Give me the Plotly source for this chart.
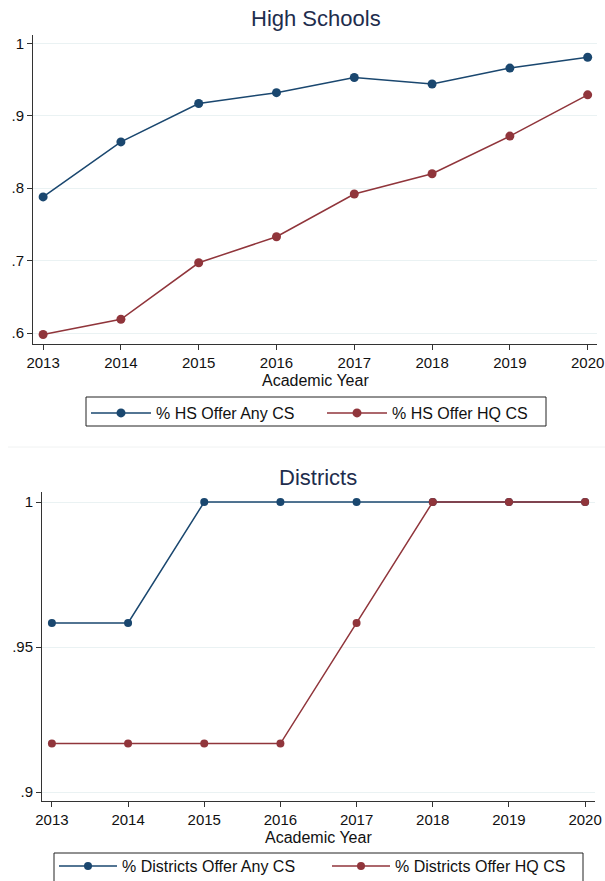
import plotly.graph_objects as go

years = [2013, 2014, 2015, 2016, 2017, 2018, 2019, 2020]
hs_any = [0.788, 0.864, 0.917, 0.932, 0.953, 0.944, 0.966, 0.981]
hs_hq = [0.598, 0.619, 0.697, 0.733, 0.792, 0.820, 0.872, 0.929]
dist_any = [0.9583, 0.9583, 1.0, 1.0, 1.0, 1.0, 1.0, 1.0]
dist_hq = [0.9167, 0.9167, 0.9167, 0.9167, 0.9583, 1.0, 1.0, 1.0]

hs_yticks = [0.6, 0.7, 0.8, 0.9, 1.0]
hs_ylabels = [".6", ".7", ".8", ".9", "1"]
d_yticks = [0.9, 0.95, 1.0]
d_ylabels = [".9", ".95", "1"]

BLUE = "#1a476f"
RED = "#90353b"
GRID = "#eaf2f3"
AX = "#333333"
FONT = "Liberation Sans, Arial, sans-serif"

W, H = 605, 881

fig = go.Figure()
fig.add_trace(go.Scatter(x=years, y=hs_any, mode="lines+markers", name="% HS Offer Any CS",
                         line=dict(color=BLUE, width=1.5), marker=dict(color=BLUE, size=9),
                         xaxis="x", yaxis="y", legend="legend"))
fig.add_trace(go.Scatter(x=years, y=hs_hq, mode="lines+markers", name="% HS Offer HQ CS",
                         line=dict(color=RED, width=1.5), marker=dict(color=RED, size=9),
                         xaxis="x", yaxis="y", legend="legend"))
fig.add_trace(go.Scatter(x=years, y=dist_any, mode="lines+markers", name="% Districts Offer Any CS",
                         line=dict(color=BLUE, width=1.5), marker=dict(color=BLUE, size=8),
                         xaxis="x2", yaxis="y2", legend="legend2"))
fig.add_trace(go.Scatter(x=years, y=dist_hq, mode="lines+markers", name="% Districts Offer HQ CS",
                         line=dict(color=RED, width=1.5), marker=dict(color=RED, size=8),
                         xaxis="x2", yaxis="y2", legend="legend2"))

def px_x(p):
    return p / W

def px_y(p):
    return 1 - p / H

common_x = dict(showline=True, linecolor=AX, linewidth=1, ticks="outside", ticklen=5,
                tickcolor=AX, showgrid=False, zeroline=False, tickvals=years, automargin=False,
                tickfont=dict(size=15, color="#111111", family=FONT))
common_y = dict(showline=True, linecolor=AX, linewidth=1, ticks="outside", ticklen=5,
                tickcolor=AX, showgrid=True, gridcolor=GRID, gridwidth=1, zeroline=False,
                automargin=False, tickfont=dict(size=15, color="#111111", family=FONT))

fig.update_layout(
    width=W, height=H,
    margin=dict(l=0, r=0, t=0, b=0, pad=0, autoexpand=False),
    paper_bgcolor="white", plot_bgcolor="white",
    font=dict(family=FONT, size=15, color="#111111"),
    xaxis=dict(common_x, domain=[px_x(33), px_x(597)], range=[2012.87, 2020.12], anchor="y"),
    yaxis=dict(common_y, domain=[px_y(344), px_y(35)], range=[0.5848, 1.0117],
               tickvals=hs_yticks, ticktext=hs_ylabels, anchor="x"),
    xaxis2=dict(common_x, domain=[px_x(42), px_x(595)], range=[2012.87, 2020.13], anchor="y2"),
    yaxis2=dict(common_y, domain=[px_y(801), px_y(492)], range=[0.8969, 1.00345],
                tickvals=d_yticks, ticktext=d_ylabels, anchor="x2"),
    legend=dict(orientation="h", x=px_x(86), xanchor="left", y=px_y(396), yanchor="top",
                borderwidth=0, font=dict(size=16, family=FONT),
                itemwidth=60, entrywidth=161, bgcolor="rgba(0,0,0,0)"),
    legend2=dict(orientation="h", x=px_x(54), xanchor="left", y=px_y(849), yanchor="top",
                 borderwidth=0, font=dict(size=16, family=FONT),
                 itemwidth=58, entrywidth=200, bgcolor="rgba(0,0,0,0)"),
    showlegend=True,
    shapes=[
        dict(type="rect", xref="paper", yref="paper", x0=px_x(86), x1=px_x(546),
             y0=px_y(426), y1=px_y(397), line=dict(color="#222222", width=1), layer="below"),
        dict(type="rect", xref="paper", yref="paper", x0=px_x(54), x1=px_x(583),
             y0=px_y(900), y1=px_y(853), line=dict(color="#222222", width=1), layer="below"),
        dict(type="line", xref="paper", yref="paper", x0=px_x(8), x1=1,
             y0=px_y(447), y1=px_y(447), line=dict(color="#f0f2f2", width=1), layer="below"),
    ],
    annotations=[
        dict(text="High Schools", x=px_x(316), y=px_y(18), xref="paper", yref="paper",
             showarrow=False, font=dict(size=22, color="#1e2d4d", family=FONT),
             xanchor="center", yanchor="middle"),
        dict(text="Districts", x=px_x(318), y=px_y(477), xref="paper", yref="paper",
             showarrow=False, font=dict(size=22, color="#1e2d4d", family=FONT),
             xanchor="center", yanchor="middle"),
        dict(text="Academic Year", x=px_x(315), y=px_y(380), xref="paper", yref="paper",
             showarrow=False, font=dict(size=16, color="#111111", family=FONT),
             xanchor="center", yanchor="middle"),
        dict(text="Academic Year", x=px_x(318), y=px_y(837), xref="paper", yref="paper",
             showarrow=False, font=dict(size=16, color="#111111", family=FONT),
             xanchor="center", yanchor="middle"),
    ],
)

fig.write_html("out.html", config={"responsive": False, "displayModeBar": False},
               post_script="document.body.style.margin='0';document.body.style.overflow='hidden';")
